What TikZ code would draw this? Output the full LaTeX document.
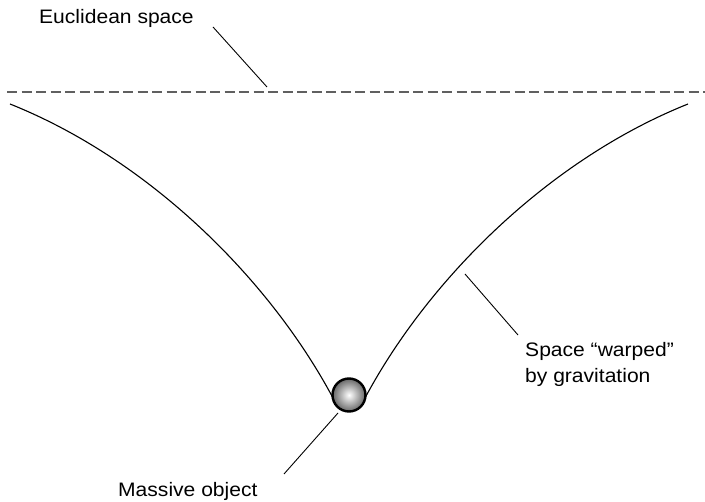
\documentclass[tikz,border=0pt]{standalone}
\usepackage{fontspec}
\setmainfont{Liberation Sans}
\tikzset{
  lbl/.style={font=\fontsize{19.5}{26}\selectfont\addfontfeature{FakeStretch=1.08},inner sep=0pt,align=left},
  leader/.style={line width=0.9pt},
  warp/.style={line width=1.1pt}
}
\begin{document}
\begin{tikzpicture}[x=1pt,y=-1pt]
  \useasboundingbox (0,0) rectangle (705,502);
  \draw[gray!75!black,line width=1.4pt,dash pattern=on 10pt off 4.5pt] (7,92) -- (705,92);
  \draw[warp] (10,104) .. controls (150,160) and (270,280) .. (333,398);
  \draw[warp] (688,104) .. controls (548,160) and (428,280) .. (365,398);
  \shade[inner color=white,outer color=gray!80!black,draw=black,line width=2.4pt] (349,395) circle (16.5);
  \node[lbl,anchor=base west] (euclid) at (39,24) {Euclidean space};
  \node[lbl,anchor=base west] (warped) at (525,383) {Space ``warped''\\by gravitation};
  \node[lbl,anchor=base west] (mass) at (118,497) {Massive object};
  \coordinate (e1) at (213,27);
  \coordinate (e2) at (267,87);
  \coordinate (w1) at (465,274);
  \coordinate (w2) at (518,335);
  \coordinate (m1) at (338,413);
  \coordinate (m2) at (284,474);
  \draw[leader] (e1) -- (e2);
  \draw[leader] (w1) -- (w2);
  \draw[leader] (m1) -- (m2);
\end{tikzpicture}
\end{document}
